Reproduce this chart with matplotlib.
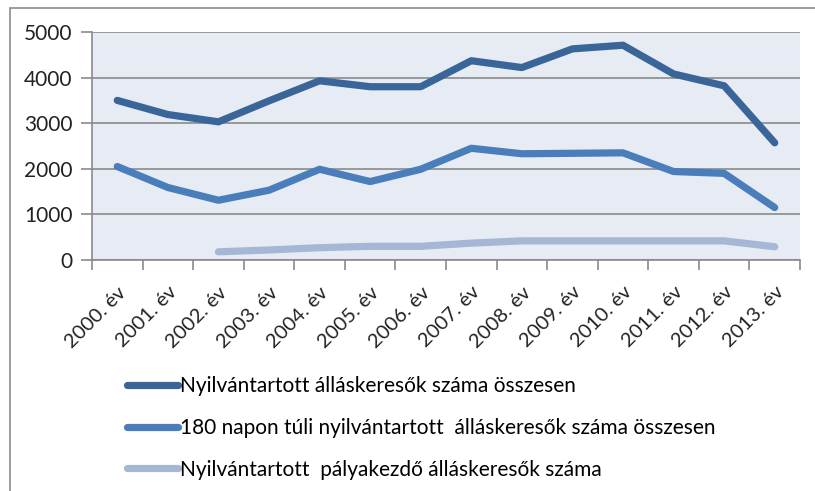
import matplotlib
matplotlib.use("Agg")
import matplotlib.pyplot as plt
from matplotlib.patches import Rectangle
import numpy as np

categories = ["2000. év", "2001. év", "2002. év", "2003. év", "2004. év", "2005. év", "2006. év",
              "2007. év", "2008. év", "2009. év", "2010. év", "2011. év", "2012. év", "2013. év"]
total = [3500, 3190, 3030, 3490, 3930, 3800, 3800, 4370, 4220, 4630, 4710, 4080, 3820, 2570]
over180 = [2050, 1590, 1310, 1530, 1990, 1720, 1990, 2450, 2330, 2340, 2350, 1940, 1900, 1150]
entrants = [None, None, 180, 220, 270, 300, 300, 370, 420, 420, 420, 420, 420, 290]
series_names = ["Nyilvántartott álláskeresők száma összesen",
                "180 napon túli nyilvántartott  álláskeresők száma összesen",
                "Nyilvántartott  pályakezdő álláskeresők száma"]
colors = ["#3A6598", "#4A7EBB", "#A5B7D4"]
yticks = [0, 1000, 2000, 3000, 4000, 5000]

plt.rcParams['font.family'] = ['Lato', 'DejaVu Sans']

W, H = 815, 491
fig = plt.figure(figsize=(W / 100, H / 100), dpi=100)
fig.patch.set_facecolor("white")
ax = fig.add_axes([92 / W, 1 - 260 / H, 708 / W, 228 / H])
ax.set_facecolor("#E7ECF4")

x = np.arange(len(categories))
ent = np.array([np.nan if v is None else v for v in entrants], dtype=float)
handles = []
for vals, c, name in zip([total, over180, ent], colors, series_names):
    h, = ax.plot(x, vals, color=c, lw=5.2, solid_capstyle="round", solid_joinstyle="round", label=name)
    handles.append(h)

ax.set_xlim(-0.5, len(categories) - 0.5)
ax.set_ylim(0, 5000)
ax.set_yticks(yticks)
ax.set_yticklabels([str(v) for v in yticks])
ax.yaxis.grid(True, color="#8A8A8A", lw=1.2)
ax.set_axisbelow(True)
ax.set_xticks(np.arange(len(categories) + 1) - 0.5)
ax.set_xticklabels([])
ax.set_xticks(x, minor=True)
ax.set_xticklabels(categories, minor=True, rotation=45, ha="right", va="top",
                   rotation_mode="anchor", fontsize=14.5, color="#222222")
ax.tick_params(axis="x", which="minor", length=0, pad=17)
ax.tick_params(axis="x", which="major", length=7, width=1.2, color="#8A8A8A")
ax.tick_params(axis="y", length=8, width=1.2, color="#8A8A8A", labelsize=15, labelcolor="#222222", pad=6)
for s in ["top", "right"]:
    ax.spines[s].set_visible(False)
ax.spines["left"].set_color("#8A8A8A")
ax.spines["bottom"].set_color("#8A8A8A")
ax.spines["left"].set_linewidth(1.2)
ax.spines["bottom"].set_linewidth(1.2)

fig.legend(handles=handles, loc="upper left", bbox_to_anchor=(127 / W, 1 - 376 / H),
           frameon=False, fontsize=15, handlelength=2.45, handletextpad=0.1,
           labelspacing=1.05, borderpad=0, borderaxespad=0)

fig.add_artist(Rectangle((10 / W, -0.1), 1.2, 1.1 - 8 / H, transform=fig.transFigure,
                         fill=False, edgecolor="#8C8C8C", lw=1.2))

fig.savefig("out.png", dpi=100)
